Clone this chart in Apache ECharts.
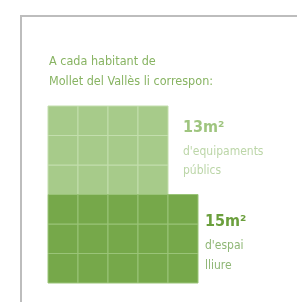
<!DOCTYPE html>
<html>
<head>
<meta charset="utf-8">
<script src="https://cdn.jsdelivr.net/npm/echarts@6/dist/echarts.min.js"></script>
<style>
  html, body { margin: 0; padding: 0; background: #fff; }
  #main { width: 297px; height: 302px; }
</style>
</head>
<body>
<div id="main"></div>
<script>
const chart = echarts.init(document.querySelector('#main'))

// data
const titleLines = ['A cada habitant de', 'Mollet del Vallès li correspon:']
const areaNames = ["d'equipaments\npúblics", "d'espai\nlliure"]
const areaValues = [13, 15]
const blockCols = [4, 5]
const blockRows = [3, 3]
const blockRowStart = [3, 0]

const fills = ['#a7cb8a', '#76a84a']
const lines = ['#c3dead', '#9ac478']
const valueColors = ['#9fc57f', '#6b9f3d']
const textColors = ['#bcd6a8', '#8fb776']

const cells = []
blockCols.forEach((cols, b) => {
    for (let c = 0; c < cols; c++) {
        for (let r = 0; r < blockRows[b]; r++) {
            cells.push([c, blockRowStart[b] + r, b])
        }
    }
})

const font = '"Liberation Sans Narrow", "DejaVu Sans Condensed", sans-serif'

chart.setOption({
    animation: false,
    grid: { left: 48, top: 106, width: 150, height: 177 },
    xAxis: { type: 'value', min: 0, max: 5, show: false },
    yAxis: { type: 'value', min: 0, max: 6, show: false },
    graphic: [
        {
            type: 'polyline',
            shape: { points: [[21, 302], [21, 16], [297, 16]] },
            style: { stroke: '#bdbdbd', lineWidth: 2, fill: null }
        },
        {
            type: 'text', left: 49, top: 52,
            style: { text: titleLines.join('\n'), fill: '#88b463', font: '12.5px ' + font, lineHeight: 20 }
        },
        {
            type: 'text', left: 183, top: 120,
            style: { text: areaValues[0] + 'm²', fill: valueColors[0], font: 'bold 16px ' + font }
        },
        {
            type: 'text', left: 183, top: 142,
            style: { text: areaNames[0], fill: textColors[0], font: '12px ' + font, lineHeight: 19 }
        },
        {
            type: 'text', left: 205, top: 214,
            style: { text: areaValues[1] + 'm²', fill: valueColors[1], font: 'bold 16px ' + font }
        },
        {
            type: 'text', left: 205, top: 236,
            style: { text: areaNames[1], fill: textColors[1], font: '12px ' + font, lineHeight: 20 }
        }
    ],
    series: [{
        type: 'custom',
        data: cells,
        renderItem: (params, api) => {
            const x = api.value(0)
            const y = api.value(1)
            const b = api.value(2)
            const p0 = api.coord([x, y + 1])
            const p1 = api.coord([x + 1, y])
            return {
                type: 'rect',
                shape: { x: p0[0], y: p0[1], width: p1[0] - p0[0], height: p1[1] - p0[1] },
                style: { fill: fills[b], stroke: lines[b], lineWidth: 1 }
            }
        }
    }]
})
</script>
</body>
</html>
